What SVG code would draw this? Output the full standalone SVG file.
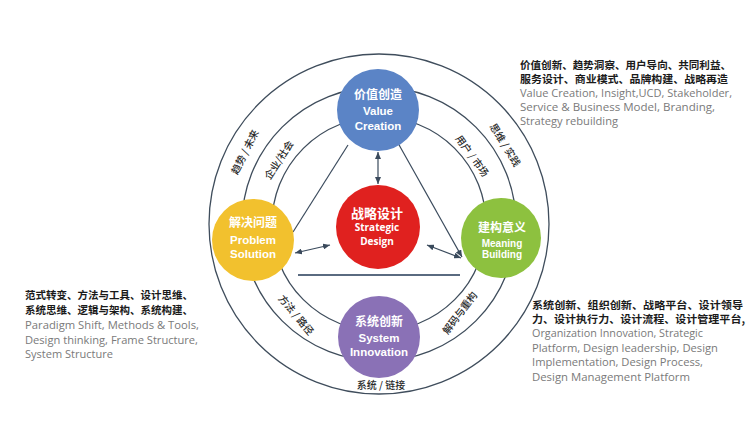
<svg xmlns="http://www.w3.org/2000/svg" width="750" height="421" viewBox="0 0 750 421">
<style>
.ring{fill:none;stroke:#3f4d5c;stroke-width:1.3}
.ln{stroke:#3a4a5c;stroke-width:1.2;fill:none}
.cn{font-family:"Liberation Sans","Noto Sans CJK SC",sans-serif;font-weight:bold;fill:#fff;text-anchor:middle}
.en{font-family:"Liberation Sans",Arial,sans-serif;font-weight:bold;fill:#fff;text-anchor:middle}
.arc{font-family:"Noto Sans CJK SC",sans-serif;font-size:10px;fill:#2a2a2a;text-anchor:middle;font-weight:500}
.zh{font-family:"Noto Sans CJK SC",sans-serif;font-size:10.5px;fill:#1a1a1a;font-weight:bold}
.eng{font-family:"Open Sans","Liberation Sans",sans-serif;font-size:11px;fill:#7a7a7a}
</style>
<defs>
<marker id="ah" markerWidth="7" markerHeight="6" refX="7" refY="3" orient="auto-start-reverse" markerUnits="userSpaceOnUse">
<path d="M0,0 L7,3 L0,6 z" fill="#3a4a5c"/>
</marker>
</defs>
<rect width="750" height="421" fill="#fff"/>
<g id="rings">
<circle class="ring" cx="379" cy="224" r="170"/>
<circle class="ring" cx="379" cy="224" r="137"/>
<circle class="ring" cx="379" cy="224" r="107"/>
</g>
<g id="connectors">
<line class="ln" x1="378" y1="152" x2="378" y2="184" marker-start="url(#ah)" marker-end="url(#ah)"/>
<line class="ln" x1="348" y1="145" x2="293" y2="232"/>
<line class="ln" x1="398" y1="143" x2="462" y2="257" marker-end="url(#ah)"/>
<line class="ln" x1="295" y1="253" x2="330" y2="245" marker-start="url(#ah)" marker-end="url(#ah)"/>
<line class="ln" x1="427" y1="245" x2="461" y2="258" marker-start="url(#ah)" marker-end="url(#ah)"/>
<line x1="298" y1="275" x2="460" y2="275" stroke="#5a6b80" stroke-width="2"/>
</g>
<g id="value-creation">
<circle cx="378" cy="110" r="41" fill="#5b84c6"/>
<text class="cn" x="378" y="99" font-size="12">价值创造</text>
<text class="en" x="378" y="115" font-size="11.5">Value</text>
<text class="en" x="378" y="130" font-size="11.5">Creation</text>
</g>
<g id="problem-solution">
<circle cx="253" cy="240" r="41" fill="#f2c12e"/>
<text class="cn" x="253" y="227" font-size="12">解决问题</text>
<text class="en" x="253" y="244" font-size="11.5">Problem</text>
<text class="en" x="253" y="258" font-size="11.5">Solution</text>
</g>
<g id="meaning-building">
<circle cx="501" cy="238" r="40" fill="#8dc13f"/>
<text class="cn" x="502" y="232" font-size="12">建构意义</text>
<text class="en" x="502" y="247" font-size="10">Meaning</text>
<text class="en" x="502" y="258" font-size="10">Building</text>
</g>
<g id="system-innovation">
<circle cx="379" cy="337" r="41" fill="#8a71b6"/>
<text class="cn" x="379" y="326" font-size="12">系统创新</text>
<text class="en" x="379" y="342" font-size="11.5">System</text>
<text class="en" x="379" y="356" font-size="11.5">Innovation</text>
</g>
<g id="strategic-design">
<circle cx="378" cy="227" r="42" fill="#e0211f"/>
<text class="cn" x="377" y="218" font-size="13">战略设计</text>
<text class="en" x="377" y="231" font-size="10" style="font-family:'Open Sans',sans-serif">Strategic</text>
<text class="en" x="377" y="244.5" font-size="10" style="font-family:'Open Sans',sans-serif">Design</text>
</g>
<g id="arc-labels">
<text class="arc" transform="translate(245,152) rotate(-63)" y="3.5">趋势 / 未来</text>
<text class="arc" transform="translate(279,160) rotate(-57)" y="3.5">企业/社会</text>
<text class="arc" transform="translate(472,156) rotate(54)" y="3.5">用户 / 市场</text>
<text class="arc" transform="translate(505,145) rotate(58)" y="3.5">思维 / 实践</text>
<text class="arc" transform="translate(296,315) rotate(50)" y="3.5">方法 / 路径</text>
<text class="arc" transform="translate(460,313) rotate(-53)" y="3.5">解码与重构</text>
<text class="arc" x="381" y="389">系统 / 链接</text>
</g>
<g id="text-top-right">
<text class="zh" x="520" y="69" textLength="211" lengthAdjust="spacingAndGlyphs">价值创新、趋势洞察、用户导向、共同利益、</text>
<text class="zh" x="520" y="83" textLength="208" lengthAdjust="spacingAndGlyphs">服务设计、商业模式、品牌构建、战略再造</text>
<text class="eng" x="520" y="97" textLength="212" lengthAdjust="spacingAndGlyphs">Value Creation, Insight,UCD, Stakeholder,</text>
<text class="eng" x="520" y="111" textLength="195" lengthAdjust="spacingAndGlyphs">Service &amp; Business Model, Branding,</text>
<text class="eng" x="520" y="125" textLength="98" lengthAdjust="spacingAndGlyphs">Strategy rebuilding</text>
</g>
<g id="text-left">
<text class="zh" x="25" y="299" textLength="168" lengthAdjust="spacingAndGlyphs">范式转变、方法与工具、设计思维、</text>
<text class="zh" x="25" y="314" textLength="168" lengthAdjust="spacingAndGlyphs">系统思维、逻辑与架构、系统构建、</text>
<text class="eng" x="25" y="329" textLength="174" lengthAdjust="spacingAndGlyphs">Paradigm Shift, Methods &amp; Tools,</text>
<text class="eng" x="25" y="344" textLength="173" lengthAdjust="spacingAndGlyphs">Design thinking, Frame Structure,</text>
<text class="eng" x="25" y="358" textLength="88" lengthAdjust="spacingAndGlyphs">System Structure</text>
</g>
<g id="text-bottom-right">
<text class="zh" x="532" y="309" textLength="211" lengthAdjust="spacingAndGlyphs">系统创新、组织创新、战略平台、设计领导</text>
<text class="zh" x="532" y="323" textLength="213" lengthAdjust="spacingAndGlyphs">力、设计执行力、设计流程、设计管理平台,</text>
<text class="eng" x="532" y="337" textLength="171" lengthAdjust="spacingAndGlyphs">Organization Innovation, Strategic</text>
<text class="eng" x="532" y="352" textLength="186" lengthAdjust="spacingAndGlyphs">Platform, Design leadership, Design</text>
<text class="eng" x="532" y="366" textLength="171" lengthAdjust="spacingAndGlyphs">Implementation, Design Process,</text>
<text class="eng" x="532" y="381" textLength="158" lengthAdjust="spacingAndGlyphs">Design Management Platform</text>
</g>
</svg>
